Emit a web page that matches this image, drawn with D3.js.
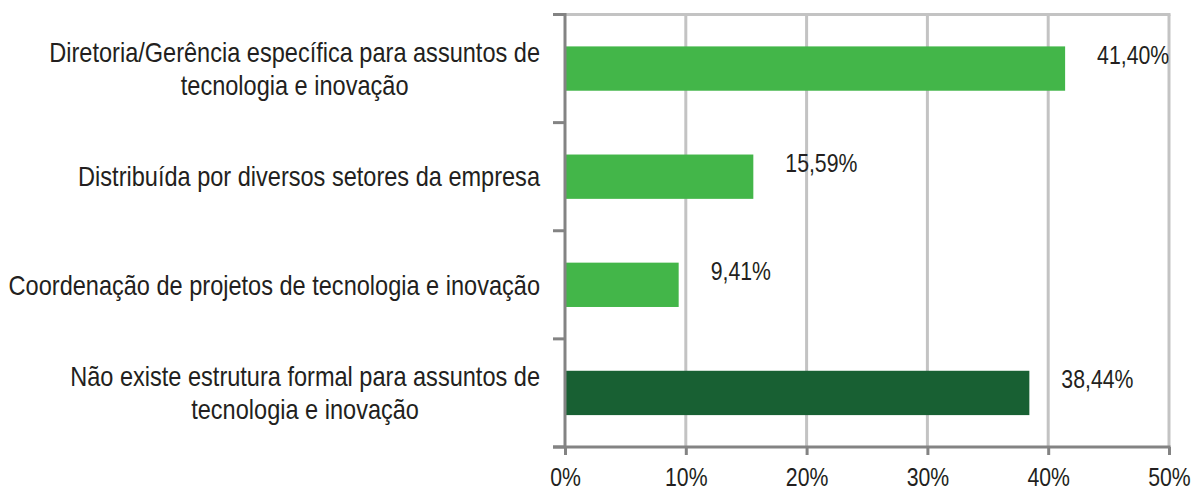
<!DOCTYPE html>
<html>
<head>
<meta charset="utf-8">
<script src="https://cdn.jsdelivr.net/npm/d3@7"></script>
<style>
  body { margin: 0; background: #fff; }
  svg text { font-family: "Liberation Sans", Arial, sans-serif; fill: #231f20; }
</style>
</head>
<body>
<svg id="chart" width="1193" height="488"></svg>
<script>
// data
var categories = [
	["Diretoria/Gerência específica para assuntos de", "tecnologia e inovação"],
	["Distribuída por diversos setores da empresa"],
	["Coordenação de projetos de tecnologia e inovação"],
	["Não existe estrutura formal para assuntos de", "tecnologia e inovação"]
];
var values = [41.40, 15.59, 9.41, 38.44];
var valueLabels = ["41,40%", "15,59%", "9,41%", "38,44%"];
var barColors = ["#43b649", "#43b649", "#43b649", "#186033"];
var xTicks = [0, 10, 20, 30, 40, 50];

var svg = d3.select("#chart");
var plotL = 565, plotR = 1169, plotT = 14.5, plotB = 447;
var sx = 0.85;     // narrow look of the original font (numbers)
var sxCat = 0.872; // and for the category labels

var x = d3.scaleLinear().domain([0, 50]).range([plotL, plotR]);
var y = d3.scaleBand()
	.domain(d3.range(categories.length))
	.range([plotT, plotB])
	.paddingInner(0.59)
	.paddingOuter(0.295);

// gridlines
svg.append("g").selectAll("line")
	.data(xTicks.slice(1))
	.enter().append("line")
		.attr("x1", function(d) { return x(d); })
		.attr("x2", function(d) { return x(d); })
		.attr("y1", plotT)
		.attr("y2", plotB)
		.attr("stroke", "#c3c3c3")
		.attr("stroke-width", 3);
svg.append("line")
	.attr("x1", plotL).attr("x2", plotR + 1.5)
	.attr("y1", plotT).attr("y2", plotT)
	.attr("stroke", "#c3c3c3")
	.attr("stroke-width", 3);

// bars
svg.append("g").selectAll("rect")
	.data(values)
	.enter().append("rect")
		.attr("x", x(0))
		.attr("y", function(d, i) { return y(i); })
		.attr("width", function(d) { return x(d) - x(0); })
		.attr("height", y.bandwidth())
		.attr("fill", function(d, i) { return barColors[i]; });

// y axis with ticks at band boundaries
var gap = (y.step() - y.bandwidth()) / 2;
var bounds = d3.range(categories.length).map(function(i) { return y(i) - gap; });
bounds.push(y(categories.length - 1) + y.bandwidth() + gap);
svg.append("g").selectAll("line")
	.data(bounds)
	.enter().append("line")
		.attr("x1", plotL - 12)
		.attr("x2", plotL)
		.attr("y1", function(d) { return d; })
		.attr("y2", function(d) { return d; })
		.attr("stroke", "#838383")
		.attr("stroke-width", 3);
svg.append("line")
	.attr("x1", plotL).attr("x2", plotL)
	.attr("y1", plotT - 1.5).attr("y2", plotB)
	.attr("stroke", "#838383")
	.attr("stroke-width", 3);

// x axis
var xAxis = svg.append("g")
	.attr("transform", "translate(0," + plotB + ")")
	.call(d3.axisBottom(x).tickValues(xTicks).tickSize(8).tickSizeOuter(0)
		.tickFormat(function(d) { return d + "%"; }));
xAxis.select(".domain").remove();
xAxis.append("line")
	.attr("x1", plotL - 12).attr("x2", plotR + 1.5)
	.attr("y1", 0).attr("y2", 0)
	.attr("stroke", "#838383")
	.attr("stroke-width", 3);
xAxis.selectAll(".tick line").attr("stroke", "#838383").attr("stroke-width", 3);
xAxis.selectAll(".tick text").remove();
xAxis.selectAll(".tick").append("text")
	.attr("transform", "translate(0,38.5) scale(" + sx + ",1)")
	.attr("text-anchor", "middle")
	.style("font-size", "25px")
	.text(function(d) { return d + "%"; });

// value labels
svg.append("g").selectAll("text")
	.data(values)
	.enter().append("text")
		.attr("transform", function(d, i) {
			return "translate(" + (x(d) + 32) + "," + (y(i) + y.bandwidth() / 2 - 5) + ") scale(" + sx + ",1)";
		})
		.style("font-size", "25px")
		.text(function(d, i) { return valueLabels[i]; });

// category labels: centered lines, block right-aligned to the axis
var labelRight = 540, lineH = 33;
categories.forEach(function(lines, i) {
	var g = svg.append("g");
	var cy = y(i) + y.bandwidth() / 2;
	var texts = lines.map(function(t) {
		return g.append("text")
			.style("font-size", "27px")
			.attr("text-anchor", "middle")
			.text(t);
	});
	var w = d3.max(texts, function(t) { return t.node().getComputedTextLength(); }) * sxCat;
	var cx = labelRight - w / 2;
	texts.forEach(function(t, j) {
		var ly = cy + (j - (lines.length - 1) / 2) * lineH + 9.7;
		t.attr("transform", "translate(" + cx + "," + ly + ") scale(" + sxCat + ",1)");
	});
});
</script>
</body>
</html>
